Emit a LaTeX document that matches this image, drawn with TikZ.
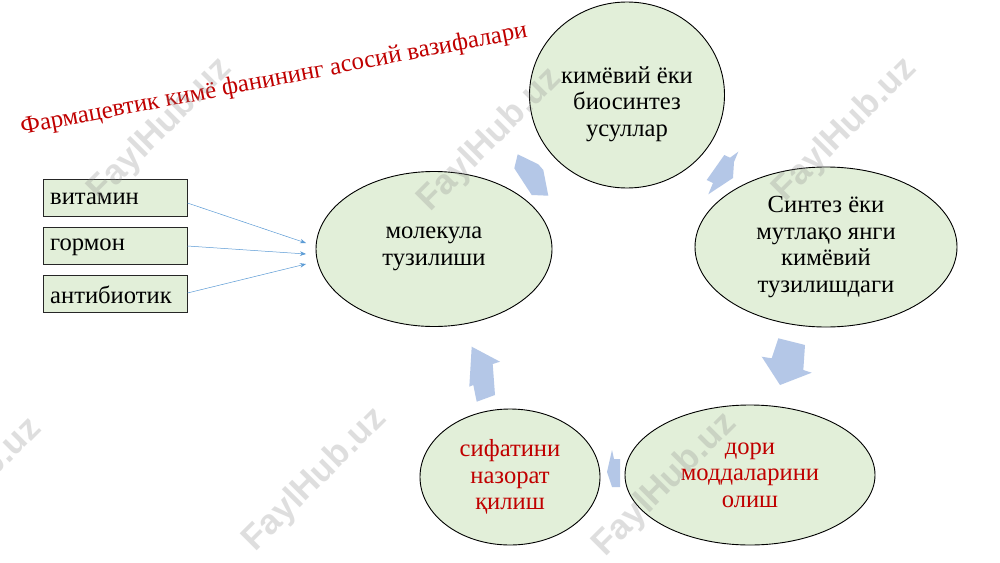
\documentclass[tikz,border=0pt]{standalone}
\usepackage{fontspec}
\setmainfont{Liberation Serif}
\newfontfamily\wmfont{Liberation Sans}
\usetikzlibrary{shapes.geometric,arrows.meta}
\definecolor{ellfill}{RGB}{226,239,217}
\definecolor{darkred}{RGB}{192,0,0}
\definecolor{blockblue}{RGB}{180,199,231}
\definecolor{thinblue}{RGB}{91,155,213}
\tikzset{
  txt/.style={font=\fontsize{24.6}{26.5}\selectfont},
  ell/.style={ellipse,draw=black,line width=0.9pt,fill=ellfill,inner sep=0pt,align=center,txt},
  itembox/.style={rectangle,draw=black!85,line width=0.9pt,fill=ellfill,minimum width=144pt,
    minimum height=37pt,inner sep=0pt},
  thinarrow/.style={draw=thinblue,line width=0.5pt,-{Stealth[length=6pt,width=4.5pt]}},
  blockarrow/.style={fill=blockblue,draw=none},
  watermark/.style={rotate=45,text=black!45,opacity=0.28,font=\wmfont\bfseries\fontsize{35}{40}\selectfont}
}
\begin{document}
\begin{tikzpicture}[x=1pt,y=-1pt]
\useasboundingbox (0,0) rectangle (1000,562);
\fill[white] (0,0) rectangle (1000,562);

% title
\node[rotate=10.9,text=darkred,font=\fontsize{24.8}{26}\selectfont,inner sep=0pt] (title) at (274,80) {Фармацевтик кимё фанининг асосий вазифалари};

% ellipses
\node[ell,minimum width=195pt,minimum height=186pt] (top) at (627,95) {};
\node[txt,align=center,inner sep=0pt] (toptext) at (627,104) {кимёвий ёки\\биосинтез\\усуллар};
\node[ell,minimum width=236pt,minimum height=155pt] (mol) at (434,249) {молекула\\тузилиши};
\node[ell,minimum width=262pt,minimum height=160pt] (syn) at (826,247) {Синтез ёки\\мутлақо янги\\кимёвий\\тузилишдаги};
\node[ell,minimum width=250pt,minimum height=140pt,text=darkred] (dori) at (750,475) {дори\\моддаларини\\олиш};
\node[ell,minimum width=180pt,minimum height=136pt,text=darkred] (sif) at (510,477) {сифатини\\назорат\\қилиш};

% boxes
\node[itembox] (vit) at (115,197.5) {};
\node[anchor=west,txt,inner sep=0pt] (vitt) at (50,199) {витамин};
\node[itembox] (gor) at (115,245.5) {};
\node[anchor=west,txt,inner sep=0pt] (gort) at (50,247) {гормон};
\node[itembox] (ant) at (115,293.5) {};
\node[anchor=west,txt,inner sep=0pt] (antt) at (50,295) {антибиотик};

% thin arrows
\coordinate (t1) at (306,243);
\coordinate (t2) at (306,254);
\coordinate (t3) at (306,264);
\draw[thinarrow] (vit.east |- 0,203) -- (t1);
\draw[thinarrow] (gor.east |- 0,246) -- (t2);
\draw[thinarrow] (ant.east |- 0,293) -- (t3);

% block arrows
\path[blockarrow] (517.7,154.3) -- (538.3,164.3) -- (543.3,170) -- (548.3,195.7) -- (531.7,195) -- (514.3,168.3) -- cycle;
\path[blockarrow] (738.3,151.7) -- (734,162) -- (733,178) -- (708.3,194.3) -- (713,183) -- (706.7,180) -- (724.3,155) -- (730,157.7) -- cycle;
\path[blockarrow] (778.3,338.3) -- (805,345) -- (803.3,370) -- (811.7,372.7) -- (780,385) -- (761.7,356.7) -- (771.7,358.3) -- cycle;
\path[blockarrow] (612,450) -- (614,459) -- (620,459) -- (620,487) -- (612,487) -- (607,472) -- cycle;
\path[blockarrow] (471.7,346.7) -- (500,361.7) -- (492.7,364) -- (495,395) -- (476.7,401.7) -- (473.3,385) -- (469.3,386.7) -- cycle;

% watermarks
\node[watermark] (w1) at (160,130) {FaylHub.uz};
\node[watermark] (w2) at (490,140) {FaylHub.uz};
\node[watermark] (w3) at (845,130) {FaylHub.uz};
\node[watermark] (w4) at (-30,490) {FaylHub.uz};
\node[watermark] (w5) at (315,480) {FaylHub.uz};
\node[watermark] (w6) at (665,485) {FaylHub.uz};
\end{tikzpicture}
\end{document}
